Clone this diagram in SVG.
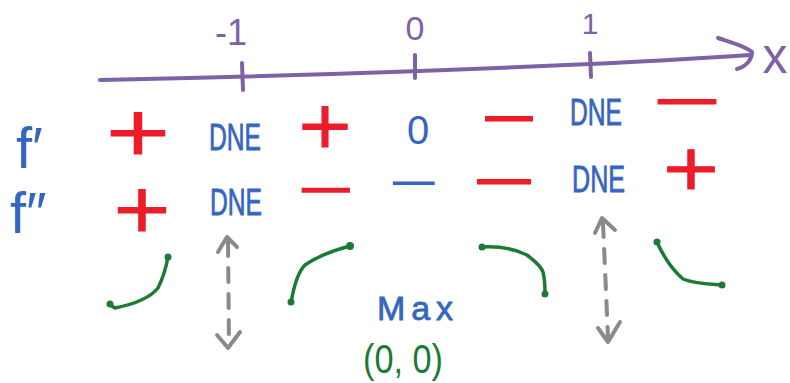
<svg xmlns="http://www.w3.org/2000/svg" width="790" height="383" viewBox="0 0 790 383">
<style>
  text { font-family: "Liberation Sans", Arial, sans-serif; }
  .purple { fill: #7d62a6; }
  .blue { fill: #3565c2; }
  .dne { fill: #3565c2; stroke: #3565c2; stroke-width: 0.8; }
  .sign { font-family: "DejaVu Sans", sans-serif; fill: #ec1c28; stroke: #ec1c28; stroke-width: 1.2; text-anchor: middle; }
  .bsign { font-family: "DejaVu Sans", sans-serif; fill: #3565c2; text-anchor: middle; }
  .green { fill: #1b7a35; }
  .axis { fill: none; stroke: #7d62a6; stroke-width: 4; stroke-linecap: round; stroke-linejoin: round; }
  .curve { fill: none; stroke: #1b7a35; stroke-width: 3.5; stroke-linecap: round; stroke-linejoin: round; }
  .dot { fill: #1b7a35; }
  .gray { fill: none; stroke: #8a8a8a; stroke-width: 4; stroke-linecap: round; stroke-linejoin: round; }
  .dash { stroke-dasharray: 14 12; }
</style>
<rect width="790" height="383" fill="#ffffff"/>

<g id="axis">
  <path class="axis" d="M100,80 C300,76 500,68 590,64 C660,61 720,57 750,55"/>
  <path class="axis" d="M718,38 C730,42 745,46 752,52 C752,58 748,66 737,69"/>
  <path class="axis" d="M242,63 L243,90"/>
  <path class="axis" d="M415,55 L415,78"/>
  <path class="axis" d="M590,53 L591,77"/>
  <text class="purple" x="215" y="45" font-size="36">-1</text>
  <text class="purple" x="415" y="40" font-size="34" text-anchor="middle">0</text>
  <text class="purple" x="590" y="34" font-size="30" text-anchor="middle">1</text>
  <text class="purple" x="775" y="73" font-size="50" text-anchor="middle">x</text>
</g>

<g id="row-fprime">
  <text class="blue" x="16" y="168" font-size="58">f′</text>
  <text class="sign" x="138" y="154" font-size="66" textLength="71" lengthAdjust="spacingAndGlyphs">+</text>
  <text class="dne" x="209" y="150" font-size="36" textLength="52" lengthAdjust="spacingAndGlyphs">DNE</text>
  <text class="sign" x="325" y="146.5" font-size="64" textLength="59" lengthAdjust="spacingAndGlyphs">+</text>
  <text class="blue" x="418" y="144" font-size="40" text-anchor="middle">0</text>
  <text class="sign" x="509" y="134.6" font-size="52" textLength="62" lengthAdjust="spacingAndGlyphs">−</text>
  <text class="dne" x="570" y="125" font-size="36" textLength="52" lengthAdjust="spacingAndGlyphs">DNE</text>
  <text class="sign" x="687" y="117.6" font-size="52" textLength="76" lengthAdjust="spacingAndGlyphs">−</text>
</g>

<g id="row-fdoubleprime">
  <text class="blue" x="10" y="233" font-size="58">f″</text>
  <text class="sign" x="142" y="231" font-size="66" textLength="63" lengthAdjust="spacingAndGlyphs">+</text>
  <text class="dne" x="210" y="215" font-size="36" textLength="52" lengthAdjust="spacingAndGlyphs">DNE</text>
  <text class="sign" x="326" y="204" font-size="44" textLength="62" lengthAdjust="spacingAndGlyphs">−</text>
  <text class="bsign" x="414" y="197" font-size="44" textLength="56" lengthAdjust="spacingAndGlyphs">−</text>
  <text class="sign" x="504" y="197.6" font-size="52" textLength="70" lengthAdjust="spacingAndGlyphs">−</text>
  <text class="dne" x="572" y="192" font-size="36" textLength="53" lengthAdjust="spacingAndGlyphs">DNE</text>
  <text class="sign" x="691" y="189" font-size="62" textLength="62" lengthAdjust="spacingAndGlyphs">+</text>
</g>

<g id="curves">
  <path class="curve" d="M110,305 L115,308 C135,304 150,298 158,288 C163,278 166,268 168,257"/>
  <circle class="dot" cx="110" cy="304" r="3.5"/>
  <circle class="dot" cx="168" cy="257" r="3.5"/>
  <path class="curve" d="M291,303 C294,285 298,272 305,265 C318,256 335,250 350,246"/>
  <circle class="dot" cx="291" cy="302" r="3.5"/>
  <circle class="dot" cx="350" cy="246" r="4"/>
  <path class="curve" d="M482,247 C500,246 515,249 527,255 C535,261 541,266 543,272 C545,280 545,287 545,294"/>
  <circle class="dot" cx="482" cy="247" r="3.5"/>
  <circle class="dot" cx="545" cy="294" r="3.5"/>
  <path class="curve" d="M657,242 C665,260 675,272 683,279 C695,284 710,284 722,285"/>
  <circle class="dot" cx="657" cy="242" r="3.5"/>
  <circle class="dot" cx="722" cy="285" r="3.5"/>
</g>

<g id="arrows">
  <path class="gray dash" d="M228,242 L229,344"/>
  <path class="gray" d="M218,252 L227,237 L237,247"/>
  <path class="gray" d="M217,335 L228,348 L240,332"/>
  <path class="gray dash" d="M603,223 L608,338"/>
  <path class="gray" d="M595,233 L602,218 L615,230"/>
  <path class="gray" d="M598,328 L608,342 L620,322"/>
</g>

<g id="max-label">
  <text class="dne" x="377" y="320" font-size="34" textLength="76" lengthAdjust="spacing">Max</text>
  <text class="green" x="363" y="373" font-size="40" textLength="80" lengthAdjust="spacingAndGlyphs">(0, 0)</text>
</g>
</svg>
